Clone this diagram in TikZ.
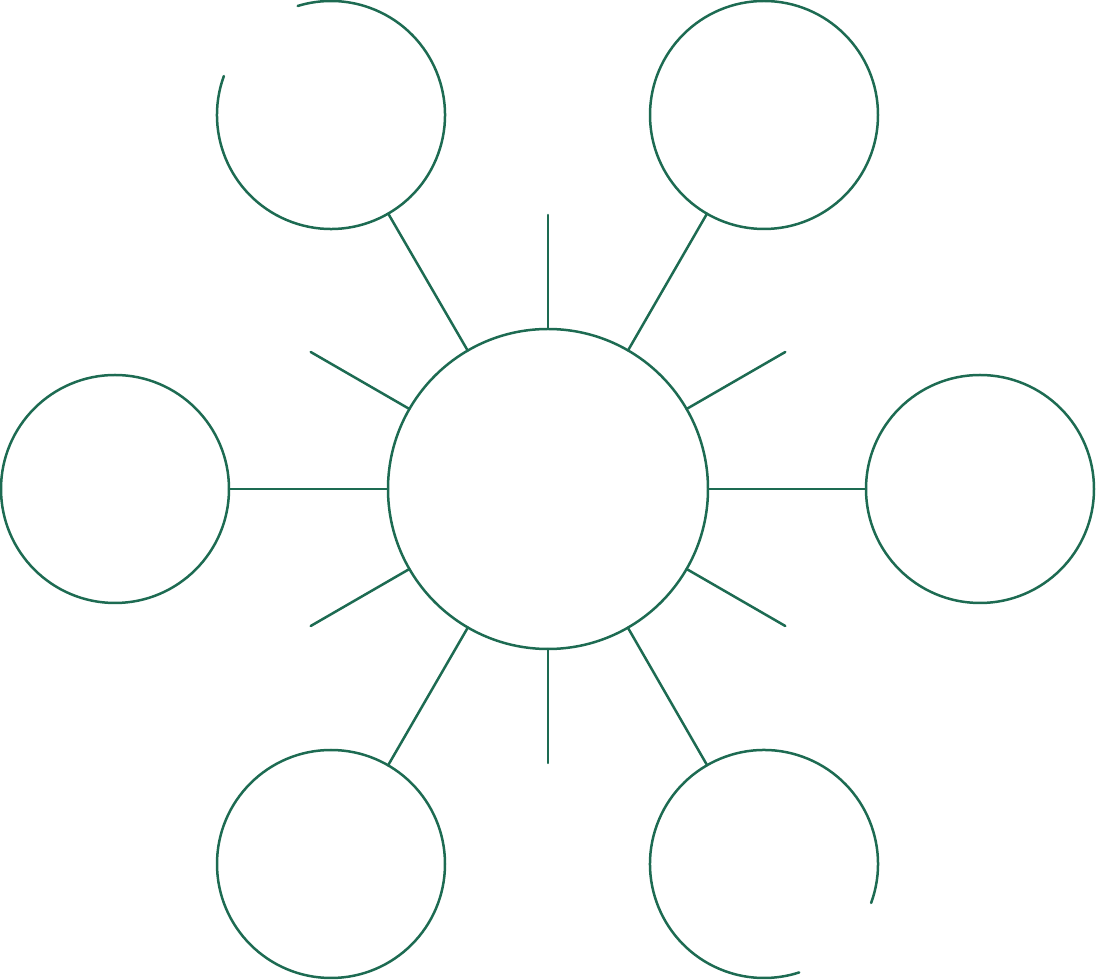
\documentclass[tikz,border=0pt]{standalone}
\definecolor{ink}{HTML}{1D6B52}
\begin{document}
\begin{tikzpicture}[x=1pt,y=1pt,
  line/.style={draw=ink,line width=2.5pt,line cap=round},
  hub/.style={circle,draw=ink,line width=2.5pt,inner sep=0pt,outer sep=0pt,minimum size=320pt},
  leaf/.style={circle,draw=ink,line width=2.5pt,inner sep=0pt,outer sep=0pt,minimum size=228pt},
  openleaf/.style={circle,inner sep=0pt,outer sep=0pt,minimum size=228pt}]
\useasboundingbox (0,0) rectangle (1096,980);
\node[hub] (c) at (548,491) {};
\node[openleaf] (tl) at (331,865) {};
\node[leaf] (tr) at (764,865) {};
\node[leaf] (l) at (115,491) {};
\node[leaf] (r) at (980,491) {};
\node[leaf] (bl) at (331,116) {};
\node[openleaf] (br) at (764,116) {};
% open circles
\draw[line] ([shift={(160:114)}]tl.center) arc[start angle=160,end angle=467,radius=114];
\draw[line] ([shift={(340:114)}]br.center) arc[start angle=340,end angle=648,radius=114];
% connectors
\foreach \n in {tl,tr,l,r,bl,br}{\draw[line] (c) -- (\n);}
% short spokes
\foreach \a in {90,30,-30,-90,210,150}{
  \coordinate (s\a) at ([shift={(\a:274)}]c.center);
  \draw[line] (c.\a) -- (s\a);}
\end{tikzpicture}
\end{document}
